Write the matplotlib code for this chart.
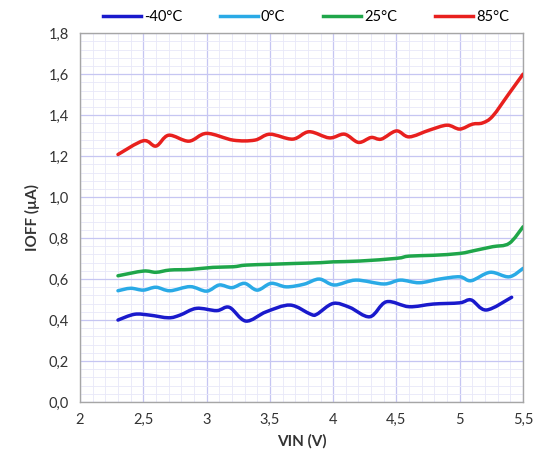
import numpy as np
import matplotlib
matplotlib.use("Agg")
import matplotlib.pyplot as plt
from matplotlib.path import Path
from matplotlib.patches import PathPatch
from matplotlib.lines import Line2D
from matplotlib.ticker import MultipleLocator, FuncFormatter

plt.rcParams["font.family"] = ["Lato", "DejaVu Sans"]

# ---- data (VIN in V, IOFF in uA) ----
vin_red = [2.30, 2.50, 2.60, 2.70, 2.86, 3.00, 3.21, 3.38, 3.50, 3.68, 3.81, 3.97, 4.09,
           4.20, 4.30, 4.38, 4.50, 4.60, 4.76, 4.90, 5.00, 5.10, 5.18, 5.26, 5.39, 5.50]
i_red = [1.208, 1.275, 1.249, 1.302, 1.273, 1.311, 1.278, 1.278, 1.307, 1.283, 1.319, 1.289, 1.307,
         1.267, 1.291, 1.283, 1.323, 1.294, 1.327, 1.351, 1.332, 1.356, 1.362, 1.395, 1.506, 1.600]

vin_green = [2.30, 2.50, 2.60, 2.71, 2.87, 3.05, 3.21, 3.31, 3.50, 3.69, 3.90, 4.00, 4.21,
             4.50, 4.60, 4.79, 5.00, 5.13, 5.26, 5.39, 5.50]
i_green = [0.616, 0.639, 0.633, 0.644, 0.647, 0.657, 0.660, 0.668, 0.672, 0.676, 0.680, 0.684, 0.688,
           0.701, 0.712, 0.716, 0.725, 0.741, 0.758, 0.774, 0.855]

vin_cyan = [2.30, 2.40, 2.50, 2.60, 2.71, 2.87, 3.00, 3.10, 3.20, 3.30, 3.40, 3.51, 3.63, 3.77,
            3.89, 4.01, 4.18, 4.40, 4.53, 4.68, 4.84, 5.00, 5.09, 5.24, 5.39, 5.50]
i_cyan = [0.543, 0.555, 0.546, 0.560, 0.543, 0.563, 0.541, 0.571, 0.558, 0.579, 0.546, 0.579, 0.562, 0.575,
          0.600, 0.571, 0.595, 0.576, 0.595, 0.582, 0.600, 0.611, 0.592, 0.633, 0.611, 0.652]

vin_blue = [2.30, 2.43, 2.55, 2.70, 2.79, 2.92, 3.08, 3.18, 3.31, 3.47, 3.66, 3.82, 3.87,
            4.00, 4.13, 4.29, 4.42, 4.60, 4.79, 5.00, 5.09, 5.21, 5.41]
i_blue = [0.400, 0.428, 0.424, 0.411, 0.424, 0.457, 0.446, 0.462, 0.395, 0.440, 0.473, 0.429, 0.428,
          0.481, 0.462, 0.416, 0.489, 0.465, 0.478, 0.484, 0.498, 0.449, 0.511]

SERIES = [("-40°C", vin_blue, i_blue, "#1a1acc"),
          ("0°C", vin_cyan, i_cyan, "#2aaae6"),
          ("25°C", vin_green, i_green, "#1fa64a"),
          ("85°C", vin_red, i_red, "#e8201e")]
LW = 2.5


def smooth_path(x, y):
    """Excel-style smoothed line: cubic Bezier through the points (Catmull-Rom tangents)."""
    p = np.column_stack([x, y])
    verts, codes = [p[0]], [Path.MOVETO]
    n = len(p)
    for i in range(n - 1):
        p0 = p[max(i - 1, 0)]
        p1, p2 = p[i], p[i + 1]
        p3 = p[min(i + 2, n - 1)]
        c1 = p1 + (p2 - p0) / 6.0
        c2 = p2 - (p3 - p1) / 6.0
        verts += [c1, c2, p2]
        codes += [Path.CURVE4] * 3
    return Path(verts, codes)


fig = plt.figure(figsize=(5.37, 4.61), dpi=100)
ax = fig.add_axes([0.149, 0.128, 0.825, 0.800])

handles = []
for name, x, y, c in SERIES:
    ax.add_patch(PathPatch(smooth_path(x, y), facecolor="none", edgecolor=c, lw=LW,
                           joinstyle="round", capstyle="round", zorder=3))
    handles.append(Line2D([], [], color=c, lw=LW, label=name))

ax.set_xlim(2, 5.5)
ax.set_ylim(0, 1.8)
ax.xaxis.set_major_locator(MultipleLocator(0.5))
ax.xaxis.set_minor_locator(MultipleLocator(0.1))
ax.yaxis.set_major_locator(MultipleLocator(0.2))
ax.yaxis.set_minor_locator(MultipleLocator(0.04))
ax.xaxis.set_major_formatter(FuncFormatter(lambda v, p: f"{v:g}".replace(".", ",")))
ax.yaxis.set_major_formatter(FuncFormatter(lambda v, p: f"{v:.1f}".replace(".", ",")))
ax.grid(True, which="major", color="#c6c6f2", lw=0.9)
ax.grid(True, which="minor", color="#e8e8f8", lw=0.6)
ax.set_axisbelow(True)
ax.tick_params(which="both", length=0, labelsize=10.5, colors="#333333", pad=8)
for s in ax.spines.values():
    s.set_color("#a6a6a6")
    s.set_linewidth(1.0)

ax.set_xlabel("VIN (V)", fontsize=11, fontweight="bold", color="#333333", labelpad=5)
ax.set_ylabel("IOFF (µA)", fontsize=11, fontweight="bold", color="#333333", labelpad=6)

ax.legend(handles=handles, loc="lower center", bbox_to_anchor=(0.51, 1.0), ncol=4, frameon=False,
          fontsize=10.5, handlelength=2.6, handletextpad=0.2, columnspacing=2.6,
          borderaxespad=0.2)

fig.savefig("out.png", dpi=100)
